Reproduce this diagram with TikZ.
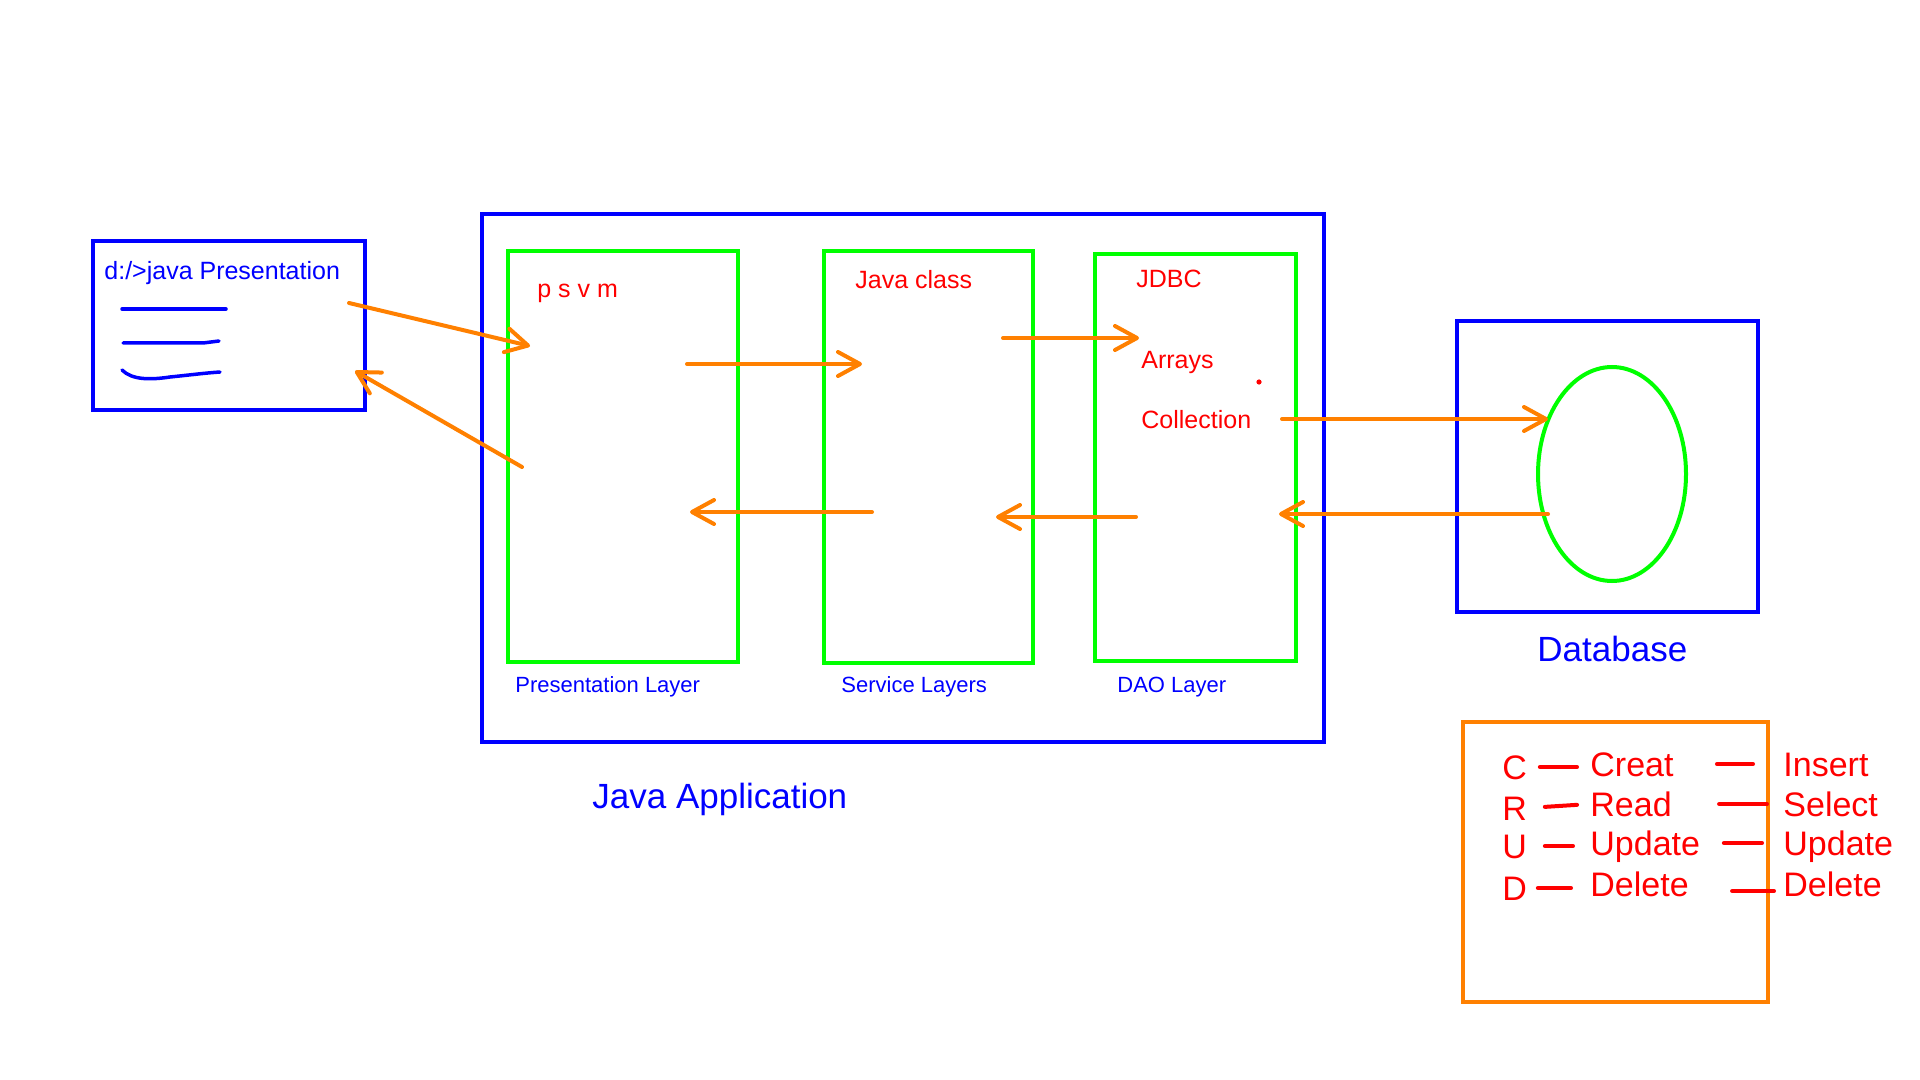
\documentclass[tikz,border=0pt]{standalone}
\usepackage{fontspec}
\setmainfont{Liberation Sans}
\usetikzlibrary{arrows.meta}
\usetikzlibrary{shapes.geometric}
\definecolor{paintblue}{RGB}{0,0,255}
\definecolor{paintgreen}{RGB}{0,255,0}
\definecolor{paintorange}{RGB}{255,128,0}
\definecolor{paintred}{RGB}{255,0,0}
\tikzset{arrow/.style={-{Straight Barb[length=11pt,width=12pt,round]}, draw=paintorange, line width=2pt, line cap=round}}
\tikzset{frame/.style={draw=paintblue, line width=2pt, inner sep=0pt}}
\tikzset{layer/.style={draw=paintgreen, line width=2pt, inner sep=0pt}}
\tikzset{txt/.style={anchor=base west, inner sep=0pt}}
\tikzset{smalltxt/.style={txt, text=paintblue, font=\fontsize{11pt}{13pt}\selectfont}}
\tikzset{redtxt/.style={txt, text=paintred, font=\fontsize{12.5pt}{15pt}\selectfont}}
\tikzset{bigtxt/.style={txt, text=paintblue, font=\fontsize{17.5pt}{21pt}\selectfont}}
\tikzset{crudtxt/.style={txt, text=paintred, font=\fontsize{17pt}{20pt}\selectfont, text height=12pt, text depth=0pt}}
\tikzset{crudline/.style={draw=paintred, line width=2pt, line cap=round}}
\tikzset{scribble/.style={draw=paintblue, line width=1.75pt, line cap=round, line join=round}}

\begin{document}
\begin{tikzpicture}[x=0.5pt, y=-0.5pt]
      \useasboundingbox (0,0) rectangle (1920,1080);

      % command prompt
      \node[frame, minimum width=136pt, minimum height=84.5pt] (cmd) at (229,325.5) {};
      \node[redtxt, text=paintblue] (cmdtxt) at (104,280) {d:/>java Presentation};
      \draw[scribble] (122,309) -- (226,309);
      \draw[scribble] (123,343) -- (203,343) -- (219,341);
      \draw[scribble] (122,370) .. controls (132,380) and (150,380) .. (170,377)
        .. controls (190,375) and (205,373) .. (220,372);

      % java application
      \node[frame, minimum width=421pt, minimum height=264pt] (app) at (903,478) {};
      \node[layer, minimum width=115pt, minimum height=205.5pt] (pres) at (623,456.5) {};
      \node[layer, minimum width=104.5pt, minimum height=206pt] (serv) at (928.5,457) {};
      \node[layer, minimum width=100.5pt, minimum height=203.5pt] (dao) at (1195.5,457.5) {};

      \node[redtxt] (psvm) at (537,298) {p s v m};
      \node[redtxt] (jclass) at (855,289) {Java class};
      \node[redtxt] (jdbc) at (1136,288) {JDBC};
      \node[redtxt] (arrays) at (1141,368) {Arrays};
      \node[redtxt] (coll) at (1141,428) {Collection};
      \fill[paintred] (1259,382) circle (1.3pt);

      \node[smalltxt] (preslbl) at (515,692) {Presentation Layer};
      \node[smalltxt] (servlbl) at (841,692) {Service Layers};
      \node[smalltxt] (daolbl) at (1117,692) {DAO Layer};
      \node[bigtxt] (applbl) at (592,808) {Java Application};

      % database
      \node[frame, minimum width=150.5pt, minimum height=145.5pt] (db) at (1607.5,466.5) {};
      \node[ellipse, draw=paintgreen, line width=2pt, inner sep=0pt,
        minimum width=74pt, minimum height=107pt] (disk) at (1612,474) {};
      \node[bigtxt] (dblbl) at (1537,661) {Database};

      % arrow ends
      \coordinate (cmdout) at (349,303);
      \coordinate (presin) at (530,346);
      \coordinate (presout) at (522,467);
      \coordinate (cmdin) at (355,371);
      \coordinate (presr) at (687,364);
      \coordinate (servin) at (862,364);
      \coordinate (servout) at (872,512);
      \coordinate (presback) at (690,512);
      \coordinate (servr) at (1003,338);
      \coordinate (daoin) at (1139,338);
      \coordinate (daoout) at (1136,517);
      \coordinate (servback) at (996,517);
      \coordinate (collout) at (1282,419);
      \coordinate (diskin) at (1548,419);
      \coordinate (diskout) at (1548,514);
      \coordinate (daoback) at (1279,514);

      \draw[arrow] (cmdout) -- (presin);
      \draw[arrow] (presout) -- (cmdin);
      \draw[arrow] (presr) -- (servin);
      \draw[arrow] (servout) -- (presback);
      \draw[arrow] (servr) -- (daoin);
      \draw[arrow] (daoout) -- (servback);
      \draw[arrow] (collout) -- (diskin);
      \draw[arrow] (diskout) -- (daoback);

      % crud table
      \node[draw=paintorange, line width=2pt, minimum width=152.5pt, minimum height=140pt] (crud) at (1615.5,862) {};
      \node[crudtxt] (c) at (1502,779) {C};
      \node[crudtxt] (r) at (1502,820) {R};
      \node[crudtxt] (u) at (1502,858) {U};
      \node[crudtxt] (d) at (1502,900) {D};
      \node[crudtxt] (creat) at (1590,776) {Creat};
      \node[crudtxt] (read) at (1590,816) {Read};
      \node[crudtxt] (upd) at (1590,855) {Update};
      \node[crudtxt] (del) at (1590,896) {Delete};
      \node[crudtxt] (insert) at (1783,776) {Insert};
      \node[crudtxt] (select) at (1783,816) {Select};
      \node[crudtxt] (updsql) at (1783,855) {Update};
      \node[crudtxt] (delsql) at (1783,896) {Delete};

      \draw[crudline, shorten <=6.25pt, shorten >=6.5pt] (c.east) -- (c.east -| creat.west);
      \draw[crudline, shorten <=8.75pt, shorten >=6.5pt] (r.east) -- (read.west);
      \draw[crudline, shorten <=8.75pt, shorten >=8.5pt] (u.east) -- (u.east -| upd.west);
      \draw[crudline, shorten <=5.25pt, shorten >=9.5pt] (d.east) -- (d.east -| del.west);
      \draw[crudline, shorten <=21.5pt, shorten >=15pt] (creat.east) -- (creat.east -| insert.west);
      \draw[crudline, shorten <=23.5pt, shorten >=8pt] (read.east) -- (read.east -| select.west);
      \draw[crudline, shorten <=11.7pt, shorten >=10.5pt] (upd.east) -- (upd.east -| updsql.west);
      \draw[crudline, shorten <=21.5pt, shorten >=4.5pt] ([yshift=-3.5pt]del.east) -- ([yshift=-3.5pt]del.east -| delsql.west);
    \end{tikzpicture}
\end{document}
